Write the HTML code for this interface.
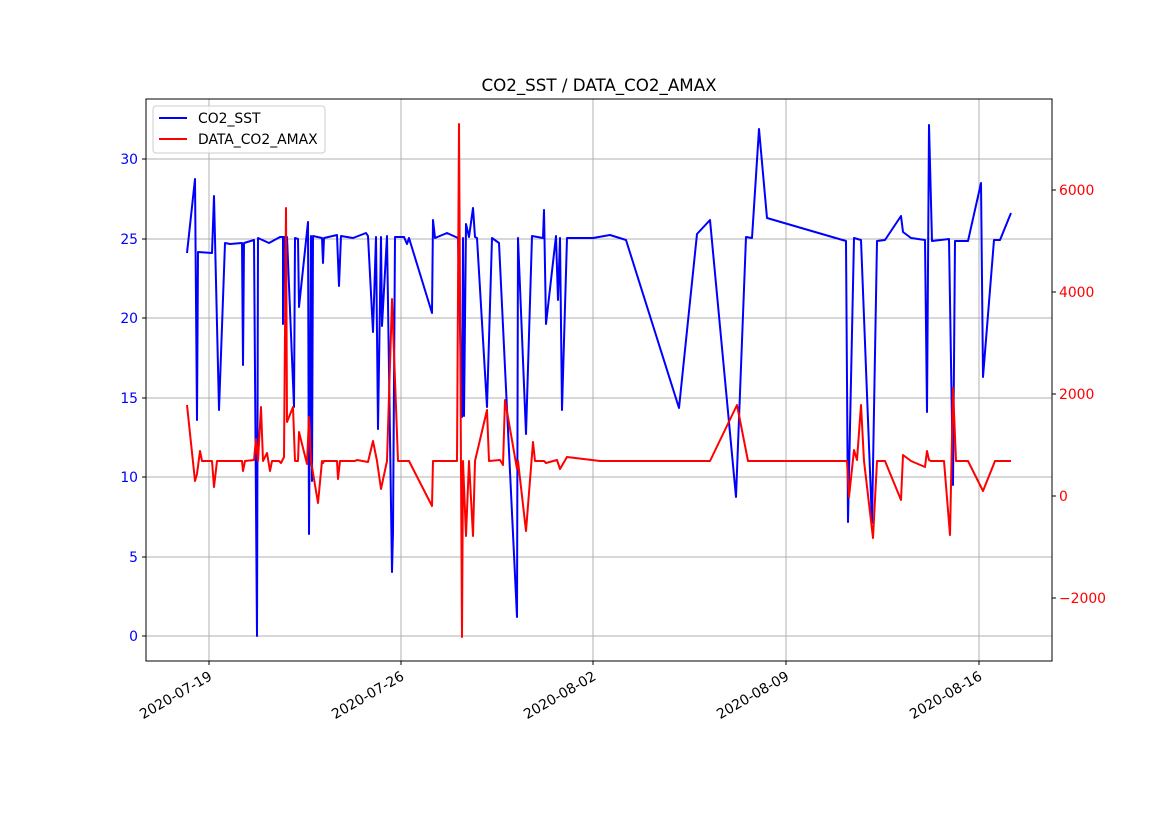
<!DOCTYPE html>
<html><head><meta charset="utf-8"><style>body{margin:0;background:#fff}svg{display:block;font-family:"DejaVu Sans","Liberation Sans",sans-serif}</style></head><body>
<svg width="1169" height="827" viewBox="0 0 1169 827">
<rect width="1169" height="827" fill="#fff"/>
<g stroke="#b0b0b0" stroke-width="1">
<line x1="209" y1="99" x2="209" y2="661"/><line x1="401" y1="99" x2="401" y2="661"/><line x1="593" y1="99" x2="593" y2="661"/><line x1="786" y1="99" x2="786" y2="661"/><line x1="979" y1="99" x2="979" y2="661"/>
<line x1="146" y1="636" x2="1052" y2="636"/><line x1="146" y1="557" x2="1052" y2="557"/><line x1="146" y1="477" x2="1052" y2="477"/><line x1="146" y1="398" x2="1052" y2="398"/><line x1="146" y1="318" x2="1052" y2="318"/><line x1="146" y1="239" x2="1052" y2="239"/><line x1="146" y1="159" x2="1052" y2="159"/>
</g>
<polyline fill="none" stroke="#0000ff" stroke-width="2" stroke-linejoin="round" points="187,253 195,179 197,420 198,252 212,253 214,196 219,410 225,243 230,244 242,243 243,365 244,243 254,240 257,636 258,238 269,243 280,237 283,237 283,324 284,237 287,237 294,407 295,238 298,239 299,307 308,222 309,534 311,236 312,481 313,236 322,238 323,263 324,238 337,235 339,286 341,236 353,238 366,233 368,236 373,332 376,237 378,429 381,237 382,326 387,236 392,572 393,532 395,237 404,237 407,244 409,238 432,313 433,220 435,238 447,233 458,238 462,417 463,238 464,416 466,224 469,237 473,208 475,237 477,238 487,407 492,238 499,243 517,617 518,238 526,434 532,236 543,238 544,210 546,324 556,236 558,300 560,238 562,410 567,238 593,238 610,235 626,240 679,408 697,234 710,220 736,497 746,237 752,238 759,129 767,218 846,241 848,522 854,238 861,240 872,523 877,241 885,240 901,216 903,232 911,238 925,240 927,412 929,125 932,241 949,239 953,485 955,241 968,241 981,183 983,377 994,240 1000,240 1011,213"/>
<polyline fill="none" stroke="#ff0000" stroke-width="2" stroke-linejoin="round" points="187,405 195,481 197,474 200,451 202,461 212,461 214,487 217,461 242,461 243,471 245,461 254,460 256,439 258,461 261,407 263,461 267,453 270,471 272,461 279,461 281,463 284,457 286,208 287,422 293,407 295,461 298,461 299,432 307,464 309,417 311,461 318,503 322,461 323,463 324,461 337,461 338,479 340,461 355,461 357,460 368,462 373,441 377,461 381,489 387,461 392,299 396,407 398,461 409,461 432,506 433,461 457,461 459,124 462,637 463,461 466,536 469,461 473,536 475,461 487,410 489,461 500,460 503,465 505,400 517,469 518,461 526,531 533,442 535,461 544,461 546,463 557,460 560,469 567,457 600,461 680,461 710,461 737,405 748,461 847,461 849,497 854,450 857,460 861,405 864,461 873,538 877,461 885,461 901,500 903,455 911,461 925,467 927,451 929,460 931,461 944,461 950,535 953,388 956,461 968,461 983,491 995,461 1011,461"/>
<rect x="146" y="99" width="906" height="562" fill="none" stroke="#000" stroke-width="1"/>
<g stroke="#000" stroke-width="1">
<line x1="209" y1="661" x2="209" y2="665"/><line x1="401" y1="661" x2="401" y2="665"/><line x1="593" y1="661" x2="593" y2="665"/><line x1="786" y1="661" x2="786" y2="665"/><line x1="979" y1="661" x2="979" y2="665"/>
<line x1="142" y1="636" x2="146" y2="636"/><line x1="142" y1="557" x2="146" y2="557"/><line x1="142" y1="477" x2="146" y2="477"/><line x1="142" y1="398" x2="146" y2="398"/><line x1="142" y1="318" x2="146" y2="318"/><line x1="142" y1="239" x2="146" y2="239"/><line x1="142" y1="159" x2="146" y2="159"/>
<line x1="1052" y1="190" x2="1056" y2="190"/><line x1="1052" y1="292" x2="1056" y2="292"/><line x1="1052" y1="394" x2="1056" y2="394"/><line x1="1052" y1="496" x2="1056" y2="496"/><line x1="1052" y1="598" x2="1056" y2="598"/>
</g>
<g font-size="13.9" fill="#0000ff" text-anchor="end">
<text x="138" y="641">0</text><text x="138" y="562">5</text><text x="138" y="482">10</text><text x="138" y="403">15</text><text x="138" y="323">20</text><text x="138" y="244">25</text><text x="138" y="164">30</text>
</g>
<g font-size="13.9" fill="#ff0000">
<text x="1059" y="195">6000</text><text x="1059" y="297">4000</text><text x="1059" y="399">2000</text><text x="1059" y="501">0</text><text x="1059" y="603">−2000</text>
</g>
<g font-size="13.9" fill="#000" text-anchor="end">
<text transform="translate(213,679) rotate(-30)">2020-07-19</text>
<text transform="translate(405,679) rotate(-30)">2020-07-26</text>
<text transform="translate(597,679) rotate(-30)">2020-08-02</text>
<text transform="translate(790,679) rotate(-30)">2020-08-09</text>
<text transform="translate(983,679) rotate(-30)">2020-08-16</text>
</g>
<text x="599" y="91" font-size="16.7" text-anchor="middle" fill="#000">CO2_SST / DATA_CO2_AMAX</text>
<rect x="153" y="106" width="172" height="47" rx="3" fill="#fff" fill-opacity="0.8" stroke="#ccc"/>
<line x1="159" y1="118" x2="187" y2="118" stroke="#0000ff" stroke-width="2"/>
<line x1="159" y1="139" x2="187" y2="139" stroke="#ff0000" stroke-width="2"/>
<text x="198" y="123" font-size="13.9">CO2_SST</text>
<text x="198" y="144" font-size="13.9">DATA_CO2_AMAX</text>
</svg>
</body></html>
